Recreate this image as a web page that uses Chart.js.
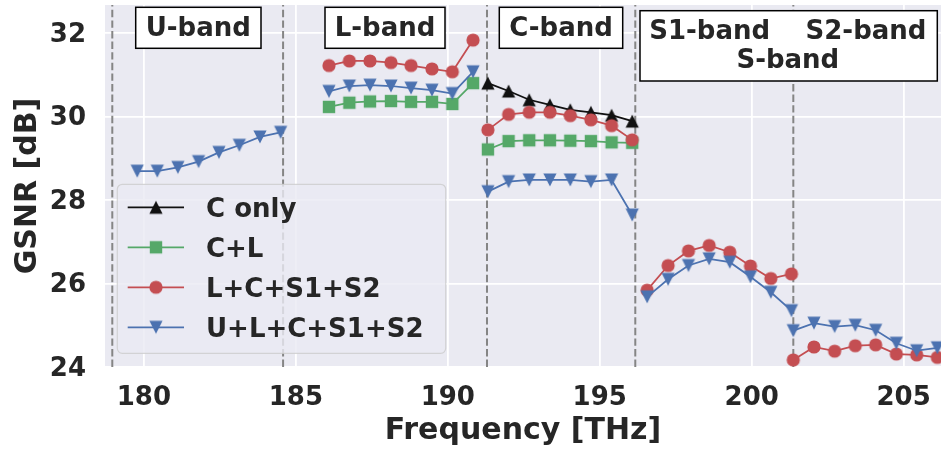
<!DOCTYPE html>
<html><head><meta charset="utf-8">
<script src="https://cdn.jsdelivr.net/npm/chart.js@4.4.0/dist/chart.umd.min.js"></script>
<style>html,body{margin:0;padding:0;background:#fff;}canvas{display:block;}</style>
</head><body>
<canvas id="c" width="941" height="451"></canvas>
<script>
// ---- data ----
const freqU  = [179.78, 180.44, 181.12, 181.80, 182.47, 183.14, 183.82, 184.50];
const freqL  = [186.09, 186.76, 187.44, 188.13, 188.79, 189.48, 190.15, 190.83];
const freqC  = [191.32, 192.00, 192.68, 193.36, 194.03, 194.71, 195.39, 196.07];
const freqS1 = [196.56, 197.25, 197.92, 198.60, 199.28, 199.96, 200.63, 201.31];
const freqS2 = [201.37, 202.05, 202.73, 203.41, 204.08, 204.76, 205.43, 206.11];

const cOnlyC = [30.80, 30.61, 30.40, 30.28, 30.16, 30.10, 30.03, 29.89];

const clL = [30.23, 30.33, 30.36, 30.37, 30.35, 30.35, 30.30, 30.80];
const clC = [29.21, 29.41, 29.43, 29.43, 29.42, 29.41, 29.38, 29.37];

const lcsL  = [31.22, 31.33, 31.33, 31.29, 31.22, 31.14, 31.07, 31.83];
const lcsC  = [29.68, 30.05, 30.10, 30.10, 30.02, 29.92, 29.78, 29.44];
const lcsS1 = [25.84, 26.43, 26.78, 26.91, 26.75, 26.42, 26.12, 26.23];
const lcsS2 = [24.17, 24.48, 24.38, 24.51, 24.53, 24.31, 24.29, 24.23];

const ulcsU  = [28.69, 28.69, 28.78, 28.92, 29.14, 29.31, 29.51, 29.62];
const ulcsL  = [30.60, 30.73, 30.75, 30.73, 30.68, 30.63, 30.55, 31.07];
const ulcsC  = [28.20, 28.44, 28.48, 28.48, 28.48, 28.44, 28.48, 27.64];
const ulcsS1 = [25.68, 26.10, 26.43, 26.59, 26.51, 26.16, 25.79, 25.35];
const ulcsS2 = [24.87, 25.05, 24.97, 25.00, 24.88, 24.57, 24.39, 24.46];

const bandEdges = [178.96, 184.58, 191.29, 196.17, 201.37];
const seriesLabels = ['C only', 'C+L', 'L+C+S1+S2', 'U+L+C+S1+S2'];
const xTicks = [180, 185, 190, 195, 200, 205];
const yTicks = [24, 26, 28, 30, 32];
const xTitle = 'Frequency [THz]';
const yTitle = 'GSNR [dB]';

// ---- helpers ----
function joinBands(pairs) {
  const out = [];
  let prevLast = null;
  pairs.forEach(([f, v]) => {
    if (prevLast !== null) out.push({x: (prevLast + f[0]) / 2, y: null});
    f.forEach((x, j) => out.push({x: x, y: v[j]}));
    prevLast = f[f.length - 1];
  });
  return out;
}
function makeMarker(shape, color) {
  const s = 18, c = document.createElement('canvas');
  c.width = s; c.height = s;
  const g = c.getContext('2d');
  g.fillStyle = color;
  const m = s / 2;
  g.beginPath();
  if (shape === 'circle') { g.arc(m, m, 6.6, 0, Math.PI * 2); }
  else if (shape === 'square') { g.rect(m - 6.2, m - 6.2, 12.4, 12.4); }
  else if (shape === 'up') { g.moveTo(m, m - 6.6); g.lineTo(m + 6.6, m + 6.6); g.lineTo(m - 6.6, m + 6.6); g.closePath(); }
  else if (shape === 'down') { g.moveTo(m, m + 6.6); g.lineTo(m + 6.6, m - 6.6); g.lineTo(m - 6.6, m - 6.6); g.closePath(); }
  g.fill();
  return c;
}
const colors = ['#111111', '#55A868', '#C44E52', '#4C72B0'];
const markers = [makeMarker('up', colors[0]), makeMarker('square', colors[1]), makeMarker('circle', colors[2]), makeMarker('down', colors[3])];

const seriesData = [
  joinBands([[freqC, cOnlyC]]),
  joinBands([[freqL, clL], [freqC, clC]]),
  joinBands([[freqL, lcsL], [freqC, lcsC], [freqS1, lcsS1], [freqS2, lcsS2]]),
  joinBands([[freqU, ulcsU], [freqL, ulcsL], [freqC, ulcsC], [freqS1, ulcsS1], [freqS2, ulcsS2]])
];

const TXT = '#262626';
const FONT = '"DejaVu Sans", sans-serif';

const bgPlugin = {
  id: 'bg',
  beforeDraw(chart) {
    const {ctx, chartArea: a} = chart;
    ctx.save();
    ctx.fillStyle = '#EAEAF2';
    ctx.fillRect(a.left, a.top, a.right - a.left, a.bottom - a.top);
    ctx.restore();
  }
};
const bandLinePlugin = {
  id: 'bandLines',
  beforeDatasetsDraw(chart) {
    const {ctx, chartArea: a, scales} = chart;
    ctx.save();
    ctx.strokeStyle = '#858585';
    ctx.lineWidth = 2;
    ctx.setLineDash([7.4, 3.2]);
    bandEdges.forEach(v => {
      const x = scales.x.getPixelForValue(v);
      ctx.beginPath();
      ctx.moveTo(x, a.bottom);
      ctx.lineTo(x, a.top);
      ctx.stroke();
    });
    ctx.restore();
  }
};
const bandBoxes = [
  {box: [135.7, 7.3, 261, 48.3], texts: [['U-band', 198.3, 36]]},
  {box: [325, 7.3, 445, 48.3], texts: [['L-band', 385, 36]]},
  {box: [499.3, 7.3, 622.7, 48.3], texts: [['C-band', 561, 36]]},
  {box: [640, 10.7, 937.3, 81], texts: [['S1-band', 709.7, 38.5], ['S2-band', 866, 38.5], ['S-band', 787.8, 68.3]]}
];
const labelPlugin = {
  id: 'labels',
  afterDatasetsDraw(chart) {
    const ctx = chart.ctx;
    ctx.save();
    bandBoxes.forEach(b => {
      const [x0, y0, x1, y1] = b.box;
      ctx.fillStyle = '#ffffff';
      ctx.fillRect(x0, y0, x1 - x0, y1 - y0);
      ctx.strokeStyle = '#000000';
      ctx.lineWidth = 1.5;
      ctx.strokeRect(x0, y0, x1 - x0, y1 - y0);
      ctx.fillStyle = TXT;
      ctx.font = 'bold 26px ' + FONT;
      ctx.textAlign = 'center';
      ctx.textBaseline = 'alphabetic';
      b.texts.forEach(([t, x, y]) => ctx.fillText(t, x, y));
    });
    const L = {x0: 117.3, y0: 184.3, x1: 445.7, y1: 353.3, r: 5};
    ctx.beginPath();
    ctx.roundRect(L.x0, L.y0, L.x1 - L.x0, L.y1 - L.y0, L.r);
    ctx.fillStyle = 'rgba(234,234,242,0.8)';
    ctx.fill();
    ctx.strokeStyle = 'rgba(204,204,204,0.8)';
    ctx.lineWidth = 1.2;
    ctx.stroke();
    const rows = [207.3, 247.3, 287.3, 327.3];
    seriesLabels.forEach((lab, i) => {
      const y = rows[i];
      ctx.strokeStyle = colors[i];
      ctx.lineWidth = 1.75;
      ctx.beginPath();
      ctx.moveTo(127.7, y);
      ctx.lineTo(184, y);
      ctx.stroke();
      const m = markers[i];
      ctx.drawImage(m, 156 - m.width / 2, y - m.height / 2);
      ctx.fillStyle = TXT;
      ctx.font = 'bold 26px ' + FONT;
      ctx.textAlign = 'left';
      ctx.textBaseline = 'alphabetic';
      ctx.fillText(lab, 206, y + 9.4);
    });
    ctx.restore();
  }
};

Chart.defaults.font.family = FONT;

new Chart(document.getElementById('c'), {
  type: 'line',
  data: {
    datasets: seriesLabels.map((lab, i) => ({
      label: lab,
      data: seriesData[i],
      borderColor: colors[i],
      backgroundColor: colors[i],
      borderWidth: 1.75,
      pointStyle: markers[i],
      pointRadius: 7,
      pointHoverRadius: 7,
      tension: 0,
      spanGaps: false,
      fill: false,
      order: 3 - i
    }))
  },
  options: {
    responsive: false,
    animation: false,
    events: [],
    layout: {autoPadding: false, padding: {top: 5, right: 0, bottom: 0, left: 0}},
    plugins: {legend: {display: false}, tooltip: {enabled: false}},
    scales: {
      x: {
        type: 'linear', min: 178.72, max: 206.23,
        afterBuildTicks: s => { s.ticks = xTicks.map(v => ({value: v})); },
        afterFit: s => { s.height = 84; s.paddingLeft = 0; s.paddingRight = 0; s.paddingTop = 0; s.paddingBottom = 0; },
        grid: {color: '#ffffff', lineWidth: 1.8, drawTicks: false},
        border: {display: false},
        ticks: {font: {size: 26, weight: 'bold'}, color: TXT, padding: 16, maxRotation: 0, autoSkip: false},
        title: {display: true, text: xTitle, font: {size: 30, weight: 'bold'}, color: TXT, padding: {top: 0, bottom: 2}}
      },
      y: {
        type: 'linear', min: 24, max: 32.67,
        afterBuildTicks: s => { s.ticks = yTicks.map(v => ({value: v})); },
        afterFit: s => { s.width = 105; s.paddingLeft = 0; s.paddingRight = 0; s.paddingTop = 0; s.paddingBottom = 0; },
        grid: {color: '#ffffff', lineWidth: 1.8, drawTicks: false},
        border: {display: false},
        ticks: {font: {size: 26, weight: 'bold'}, color: TXT, padding: 19, labelOffset: 2, autoSkip: false},
        title: {display: true, text: yTitle, font: {size: 30, weight: 'bold'}, color: TXT, padding: {top: 10, bottom: 0}}
      }
    }
  },
  plugins: [bgPlugin, bandLinePlugin, labelPlugin]
});
</script>
</body></html>
